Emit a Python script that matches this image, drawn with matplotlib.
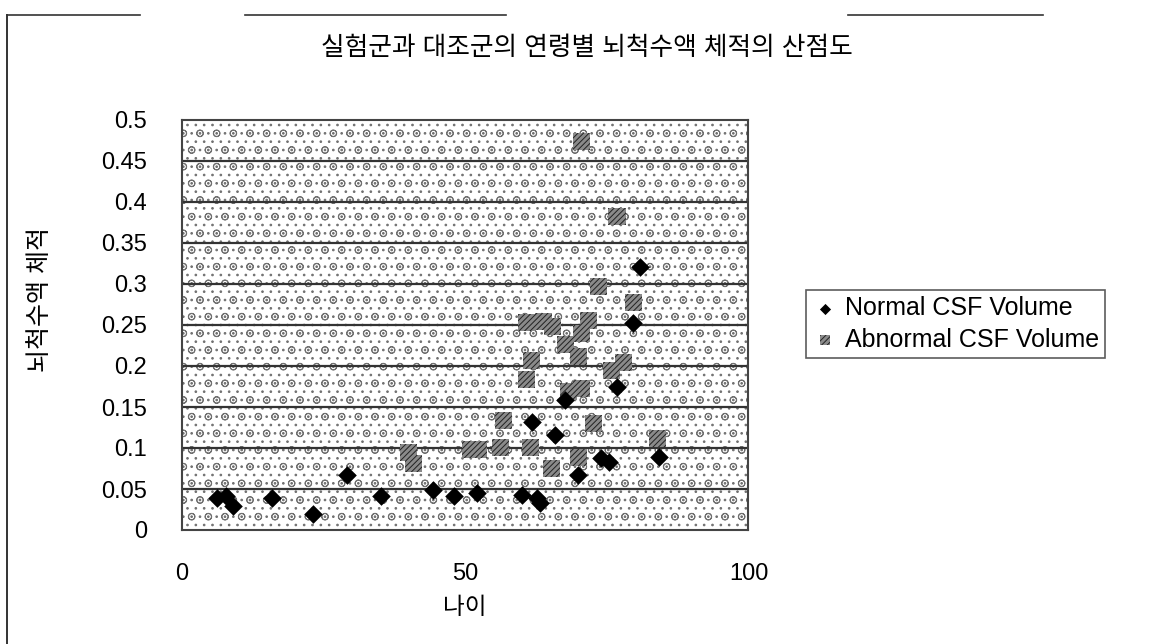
import matplotlib
matplotlib.use("Agg")
import matplotlib.pyplot as plt
from matplotlib.patches import Rectangle
from matplotlib.lines import Line2D

plt.rcParams['font.family'] = ['Liberation Sans', 'Noto Sans CJK KR', 'DejaVu Sans']
plt.rcParams['hatch.linewidth'] = 0.7

# values
normal_age = [6.2, 7.9, 9.1, 15.9, 23.1, 29.1, 35.1, 44.3, 48.0, 52.1,
              60.0, 62.7, 63.3, 70.0, 73.9, 75.3, 84.2, 65.9, 61.8, 67.7,
              76.8, 79.7, 80.9]
normal_csf = [0.039, 0.041, 0.029, 0.039, 0.020, 0.067, 0.041, 0.049, 0.041, 0.045,
              0.043, 0.039, 0.033, 0.067, 0.088, 0.083, 0.089, 0.116, 0.132, 0.159,
              0.174, 0.253, 0.321]

abnormal_age = [40.0, 40.9, 50.9, 52.3, 56.2, 56.8, 61.5, 65.3, 70.0, 72.7,
                83.9, 60.9, 68.3, 70.6, 75.9, 77.9, 61.8, 70.0, 67.7, 70.6,
                60.9, 63.8, 65.4, 71.8, 79.7, 73.6, 76.8, 70.6]
abnormal_csf = [0.094, 0.081, 0.098, 0.098, 0.101, 0.134, 0.101, 0.075, 0.089, 0.130,
                0.112, 0.183, 0.169, 0.173, 0.195, 0.204, 0.207, 0.211, 0.226, 0.240,
                0.253, 0.254, 0.248, 0.256, 0.277, 0.297, 0.382, 0.474]

y_ticks = [0, 0.05, 0.1, 0.15, 0.2, 0.25, 0.3, 0.35, 0.4, 0.45, 0.5]
y_labels = ['0', '0.05', '0.1', '0.15', '0.2', '0.25', '0.3', '0.35', '0.4', '0.45', '0.5']
x_ticks = [0, 50, 100]

title = '실험군과 대조군의 연령별 뇌척수액 체적의 산점도'
xlabel = '나이'
ylabel = '뇌척수액 체적'

W, H = 1173, 644
fig = plt.figure(figsize=(W / 100, H / 100), dpi=100)
ax = fig.add_axes([181.7 / W, (H - 530) / H, (748.5 - 181.7) / W, (530 - 120) / H])

# dotted background texture of the plot area
ax.add_patch(Rectangle((0, 0), 1, 1, transform=ax.transAxes, facecolor='white',
                       edgecolor='#707070', hatch='o..', lw=0, zorder=0))

for yv in y_ticks[1:-1]:
    ax.axhline(yv, color='#333333', lw=1.6, zorder=1)

ax.scatter(normal_age, normal_csf, marker='D', s=90, color='black', lw=0, zorder=3,
           label='Normal CSF Volume')
ax.scatter(abnormal_age, abnormal_csf, marker='s', s=150, facecolor='#8a8a8a',
           edgecolor='#222222', hatch='//////', lw=0, zorder=2,
           label='Abnormal CSF Volume')

ax.set_xlim(0, 100)
ax.set_ylim(0, 0.5)
ax.set_xticks(x_ticks)
ax.set_yticks(y_ticks)
ax.set_yticklabels(y_labels)
ax.tick_params(axis='both', length=0, labelsize=17)
ax.tick_params(axis='y', pad=25)
ax.tick_params(axis='x', pad=24)
for sp in ax.spines.values():
    sp.set_color('#444444')
    sp.set_linewidth(1.5)

fig.text(587 / W, 1 - 48 / H, title, ha='center', va='center', fontsize=18.5)
fig.text(465 / W, 1 - 608 / H, xlabel, ha='center', va='center', fontsize=17)
fig.text(40 / W, 1 - 300 / H, ylabel, ha='center', va='center', fontsize=18,
         rotation=90)

leg = fig.legend(loc='upper left', bbox_to_anchor=(806 / W, 1 - 290 / H),
                 fontsize=18, frameon=True, fancybox=False, borderpad=0.25,
                 handletextpad=0.3, handlelength=1.0, labelspacing=0.3,
                 markerscale=0.6, borderaxespad=0)
leg.get_frame().set_edgecolor('#333333')
leg.get_frame().set_linewidth(1.2)

# scanned outer border (left side and broken top edge)
for x0, x1 in [(7, 140), (245, 506), (848, 1043)]:
    fig.add_artist(Line2D([x0 / W, x1 / W], [1 - 15 / H, 1 - 15 / H],
                          color='#333333', lw=1.2))
fig.add_artist(Line2D([7 / W, 7 / W], [1 - 15 / H, 0], color='#333333', lw=1.4))

fig.savefig('out.png', dpi=100)
